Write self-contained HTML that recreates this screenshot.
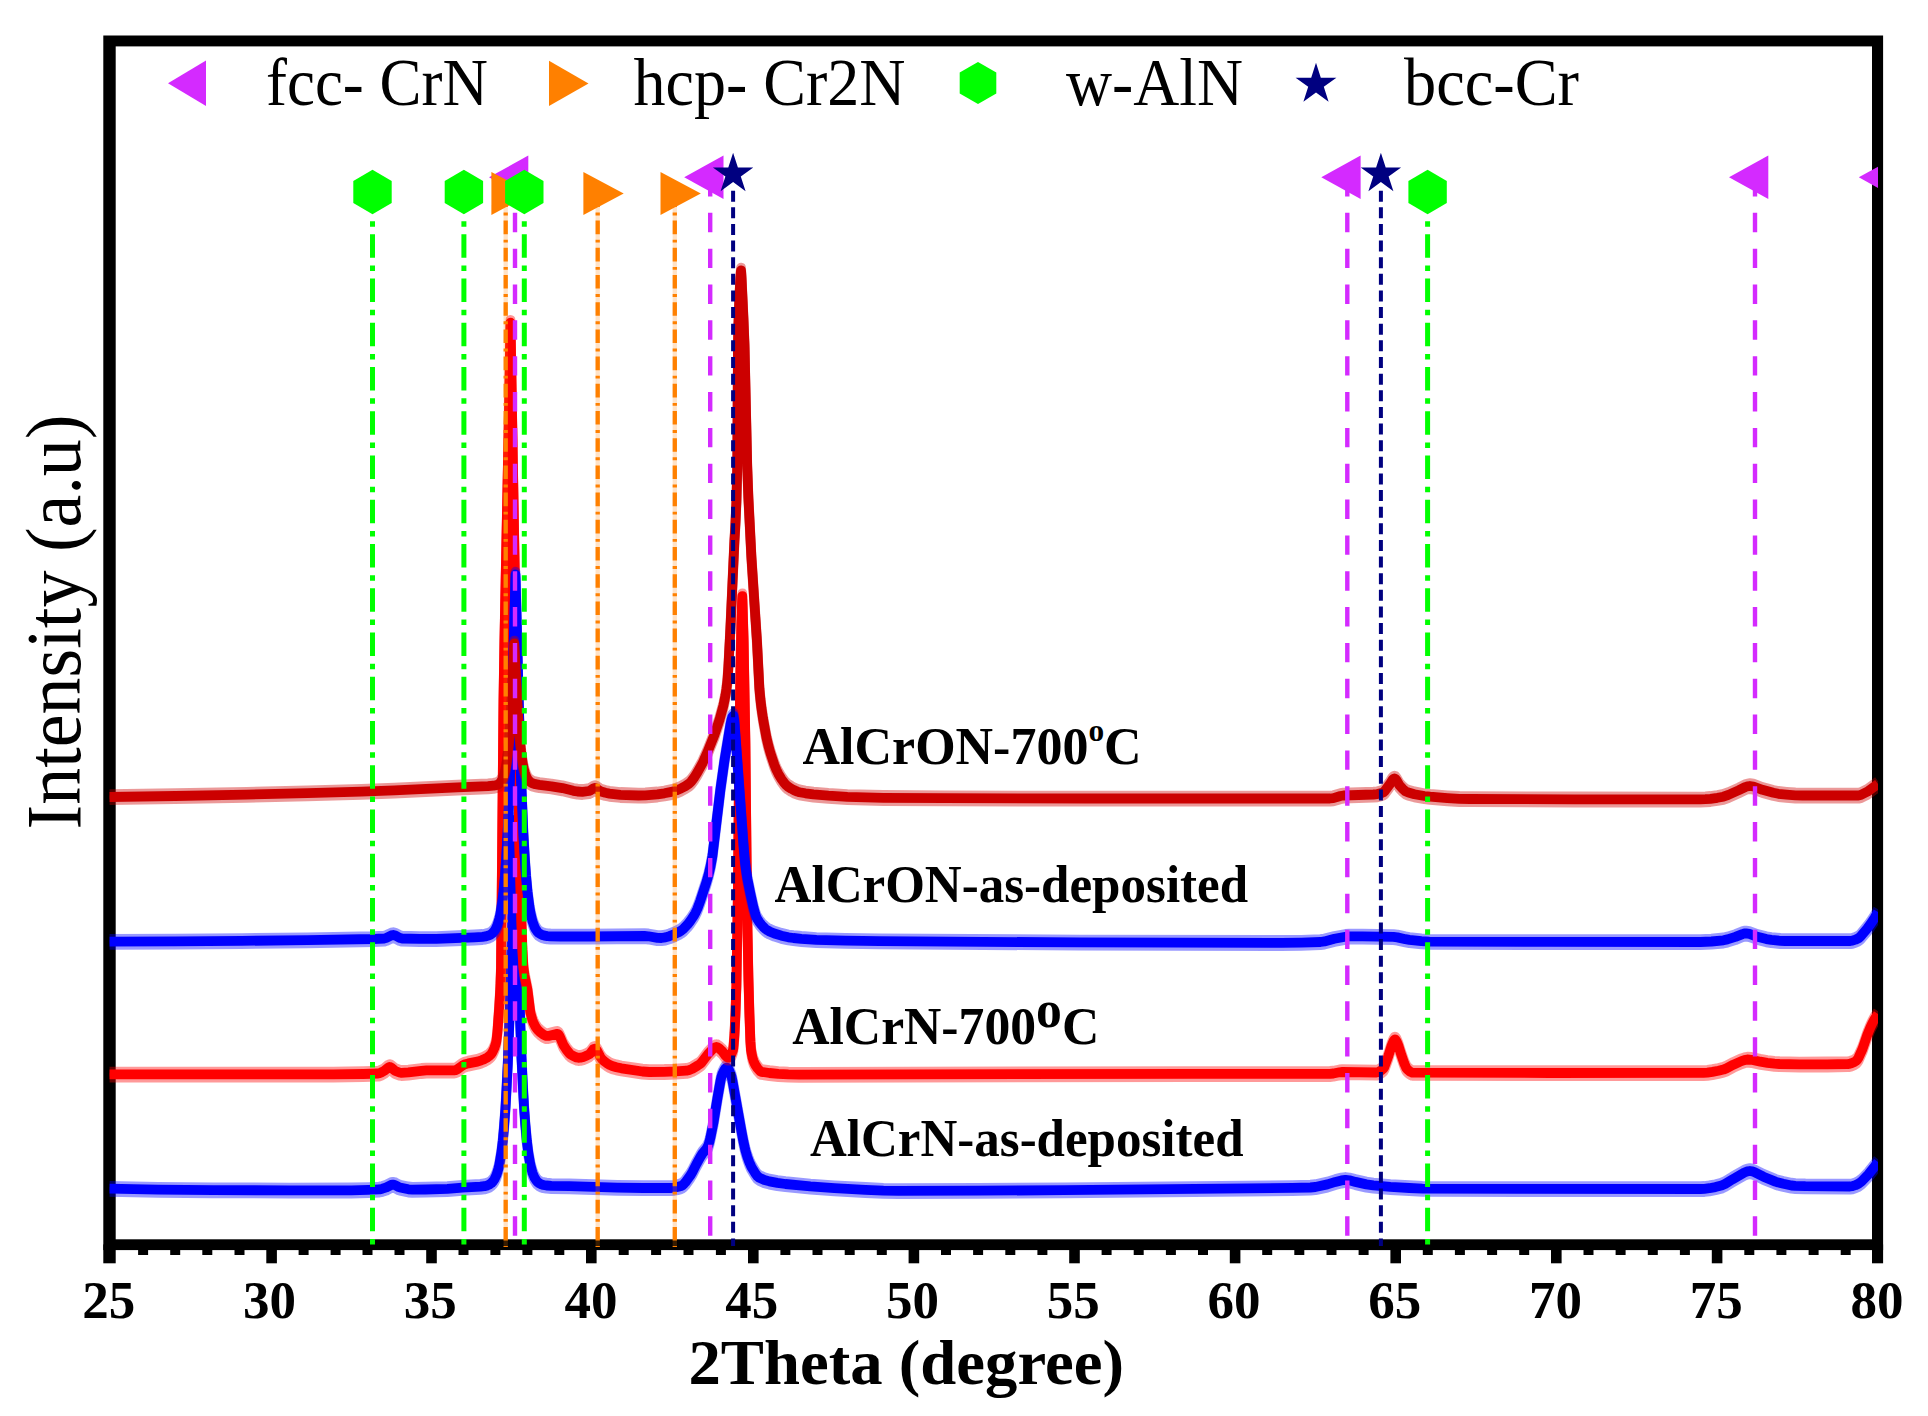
<!DOCTYPE html>
<html><head><meta charset="utf-8"><title>XRD patterns</title>
<style>
html,body{margin:0;padding:0;background:#fff}
svg{display:block}
text{font-family:"Liberation Serif",serif;fill:#000}
</style></head>
<body>
<svg width="1928" height="1416" viewBox="0 0 1928 1416">
<defs><clipPath id="plot"><rect x="109.4" y="41.0" width="1768.6" height="1209.0"/></clipPath></defs>
<rect width="1928" height="1416" fill="#fff"/>
<g fill="#000">
<rect x="103.3" y="35.5" width="1779.8" height="1214.6"/><rect x="115.7" y="46.4" width="1756.3" height="1192.9" fill="#fff"/><rect x="103.3" y="1244.4" width="12.4" height="18.9"/><rect x="1872" y="1244.4" width="11.1" height="18.9"/>
<rect x="138.1" y="1244.4" width="10" height="10.6"/>
<rect x="170.2" y="1244.4" width="10" height="10.6"/>
<rect x="202.3" y="1244.4" width="10" height="10.6"/>
<rect x="234.5" y="1244.4" width="10" height="10.6"/>
<rect x="266.3" y="1244.4" width="10.6" height="18.9"/>
<rect x="298.6" y="1244.4" width="10" height="10.6"/>
<rect x="330.6" y="1244.4" width="10" height="10.6"/>
<rect x="362.5" y="1244.4" width="10" height="10.6"/>
<rect x="394.5" y="1244.4" width="10" height="10.6"/>
<rect x="426.2" y="1244.4" width="10.6" height="18.9"/>
<rect x="458.5" y="1244.4" width="10" height="10.6"/>
<rect x="490.4" y="1244.4" width="10" height="10.6"/>
<rect x="522.4" y="1244.4" width="10" height="10.6"/>
<rect x="554.3" y="1244.4" width="10" height="10.6"/>
<rect x="586.0" y="1244.4" width="10.6" height="18.9"/>
<rect x="618.7" y="1244.4" width="10" height="10.6"/>
<rect x="651.1" y="1244.4" width="10" height="10.6"/>
<rect x="683.5" y="1244.4" width="10" height="10.6"/>
<rect x="715.9" y="1244.4" width="10" height="10.6"/>
<rect x="748.0" y="1244.4" width="10.6" height="18.9"/>
<rect x="780.4" y="1244.4" width="10" height="10.6"/>
<rect x="812.5" y="1244.4" width="10" height="10.6"/>
<rect x="844.7" y="1244.4" width="10" height="10.6"/>
<rect x="876.8" y="1244.4" width="10" height="10.6"/>
<rect x="908.6" y="1244.4" width="10.6" height="18.9"/>
<rect x="941.0" y="1244.4" width="10" height="10.6"/>
<rect x="973.1" y="1244.4" width="10" height="10.6"/>
<rect x="1005.3" y="1244.4" width="10" height="10.6"/>
<rect x="1037.4" y="1244.4" width="10" height="10.6"/>
<rect x="1069.2" y="1244.4" width="10.6" height="18.9"/>
<rect x="1101.6" y="1244.4" width="10" height="10.6"/>
<rect x="1133.7" y="1244.4" width="10" height="10.6"/>
<rect x="1165.9" y="1244.4" width="10" height="10.6"/>
<rect x="1198.0" y="1244.4" width="10" height="10.6"/>
<rect x="1229.8" y="1244.4" width="10.6" height="18.9"/>
<rect x="1262.2" y="1244.4" width="10" height="10.6"/>
<rect x="1294.3" y="1244.4" width="10" height="10.6"/>
<rect x="1326.5" y="1244.4" width="10" height="10.6"/>
<rect x="1358.6" y="1244.4" width="10" height="10.6"/>
<rect x="1390.4" y="1244.4" width="10.6" height="18.9"/>
<rect x="1422.8" y="1244.4" width="10" height="10.6"/>
<rect x="1454.9" y="1244.4" width="10" height="10.6"/>
<rect x="1487.1" y="1244.4" width="10" height="10.6"/>
<rect x="1519.2" y="1244.4" width="10" height="10.6"/>
<rect x="1551.0" y="1244.4" width="10.6" height="18.9"/>
<rect x="1583.5" y="1244.4" width="10" height="10.6"/>
<rect x="1615.6" y="1244.4" width="10" height="10.6"/>
<rect x="1647.8" y="1244.4" width="10" height="10.6"/>
<rect x="1679.9" y="1244.4" width="10" height="10.6"/>
<rect x="1711.8" y="1244.4" width="10.6" height="18.9"/>
<rect x="1744.3" y="1244.4" width="10" height="10.6"/>
<rect x="1776.4" y="1244.4" width="10" height="10.6"/>
<rect x="1808.6" y="1244.4" width="10" height="10.6"/>
<rect x="1840.7" y="1244.4" width="10" height="10.6"/>
</g>
<g clip-path="url(#plot)">
<g fill="none" stroke="#0000FF" stroke-width="9.8" stroke-linejoin="round"><polyline opacity="0.4" points="109.3,1185.9 158.4,1186.8 213.4,1187.3 289.4,1187.6 351.4,1187.5 368.4,1187.1 379.4,1186.6 382.4,1185.9 386.4,1184.6 390.4,1182.5 391.4,1182.1 393.0,1181.8 394.4,1182.0 395.4,1182.5 398.4,1184.1 400.0,1184.7 408.4,1186.5 412.4,1186.8 425.4,1186.7 447.4,1186.1 462.4,1184.8 480.4,1183.9 484.4,1183.4 487.4,1182.6 489.4,1181.7 491.4,1180.3 493.4,1178.1 494.4,1176.6 496.4,1172.4 498.4,1165.9 499.4,1161.6 501.4,1149.6 502.8,1138.0 504.0,1124.6 505.4,1106.2 506.5,1086.6 507.8,1060.6 509.8,1006.8 511.5,946.4 514.8,817.2 518.3,955.8 520.3,1021.7 521.5,1054.7 522.8,1081.7 524.0,1103.7 525.3,1121.4 526.8,1137.8 528.4,1150.8 530.4,1162.2 532.4,1169.8 534.4,1174.7 536.4,1177.8 537.4,1179.0 539.4,1180.6 541.4,1181.6 543.4,1182.2 546.4,1182.7 551.4,1183.1 569.4,1183.3 617.4,1184.8 643.4,1185.2 671.4,1185.2 674.4,1184.8 677.4,1184.2 681.0,1183.2 682.4,1182.5 683.4,1181.7 685.4,1179.5 690.4,1172.6 692.4,1169.2 696.4,1161.3 700.4,1154.1 702.4,1150.9 706.4,1146.0 707.4,1144.4 708.4,1142.2 709.4,1139.0 710.4,1134.9 713.4,1120.1 717.4,1095.6 720.4,1078.5 721.4,1074.0 722.4,1071.2 724.4,1067.1 725.4,1065.6 726.4,1064.9 726.8,1064.8 727.4,1065.0 728.4,1066.2 729.4,1068.2 731.4,1073.4 732.4,1077.7 741.4,1128.1 743.4,1138.6 745.4,1147.6 747.4,1154.3 749.4,1159.7 751.4,1164.1 755.4,1170.8 757.4,1173.4 759.4,1175.0 764.4,1177.2 769.4,1178.6 777.4,1180.1 785.4,1181.2 810.4,1183.6 834.4,1185.3 865.4,1187.0 883.4,1187.8 898.4,1188.1 977.4,1187.9 1064.4,1187.4 1292.4,1185.1 1310.4,1184.7 1315.4,1184.2 1327.4,1181.6 1335.4,1179.1 1341.4,1177.6 1345.5,1177.0 1349.4,1177.5 1355.4,1179.1 1366.4,1181.6 1373.4,1182.6 1390.4,1184.1 1409.4,1185.2 1422.4,1185.8 1519.4,1186.1 1700.4,1186.2 1704.4,1186.0 1709.4,1185.4 1715.4,1184.3 1721.4,1182.8 1725.4,1180.9 1732.4,1176.6 1744.4,1169.7 1747.4,1168.6 1749.9,1168.2 1752.4,1168.6 1754.4,1169.3 1763.4,1173.9 1775.4,1178.8 1778.4,1179.8 1783.4,1181.0 1791.4,1182.7 1795.4,1183.1 1805.4,1183.4 1850.0,1183.7 1852.4,1183.4 1855.4,1182.4 1858.4,1181.0 1861.4,1178.8 1868.4,1171.6 1873.4,1165.4 1878.0,1159.2"/><polyline opacity="0.4" points="109.3,1191.9 158.4,1192.8 213.4,1193.3 289.4,1193.6 351.4,1193.5 368.4,1193.1 379.4,1192.6 382.4,1191.9 386.4,1190.6 390.4,1188.5 391.4,1188.1 393.0,1187.8 394.4,1188.0 395.4,1188.5 398.4,1190.1 400.0,1190.7 408.4,1192.5 412.4,1192.8 425.4,1192.7 447.4,1192.1 462.4,1190.8 480.4,1189.9 484.4,1189.4 487.4,1188.6 489.4,1187.7 491.4,1186.3 493.4,1184.1 494.4,1182.6 496.4,1178.4 498.4,1171.9 499.4,1167.6 501.4,1155.6 502.8,1144.0 504.0,1130.6 505.4,1112.2 506.5,1092.6 507.8,1066.6 509.8,1012.8 511.5,952.4 514.8,823.2 518.3,961.8 520.3,1027.7 521.5,1060.7 522.8,1087.7 524.0,1109.7 525.3,1127.4 526.8,1143.8 528.4,1156.8 530.4,1168.2 532.4,1175.8 534.4,1180.7 536.4,1183.8 537.4,1185.0 539.4,1186.6 541.4,1187.6 543.4,1188.2 546.4,1188.7 551.4,1189.1 569.4,1189.3 617.4,1190.8 643.4,1191.2 671.4,1191.2 674.4,1190.8 677.4,1190.2 681.0,1189.2 682.4,1188.5 683.4,1187.7 685.4,1185.5 690.4,1178.6 692.4,1175.2 696.4,1167.3 700.4,1160.1 702.4,1156.9 706.4,1152.0 707.4,1150.4 708.4,1148.2 709.4,1145.0 710.4,1140.9 713.4,1126.1 717.4,1101.6 720.4,1084.5 721.4,1080.0 722.4,1077.2 724.4,1073.1 725.4,1071.6 726.4,1070.9 726.8,1070.8 727.4,1071.0 728.4,1072.2 729.4,1074.2 731.4,1079.4 732.4,1083.7 741.4,1134.1 743.4,1144.6 745.4,1153.6 747.4,1160.3 749.4,1165.7 751.4,1170.1 755.4,1176.8 757.4,1179.4 759.4,1181.0 764.4,1183.2 769.4,1184.6 777.4,1186.1 785.4,1187.2 810.4,1189.6 834.4,1191.3 865.4,1193.0 883.4,1193.8 898.4,1194.1 977.4,1193.9 1064.4,1193.4 1292.4,1191.1 1310.4,1190.7 1315.4,1190.2 1327.4,1187.6 1335.4,1185.1 1341.4,1183.6 1345.5,1183.0 1349.4,1183.5 1355.4,1185.1 1366.4,1187.6 1373.4,1188.6 1390.4,1190.1 1409.4,1191.2 1422.4,1191.8 1519.4,1192.1 1700.4,1192.2 1704.4,1192.0 1709.4,1191.4 1715.4,1190.3 1721.4,1188.8 1725.4,1186.9 1732.4,1182.6 1744.4,1175.7 1747.4,1174.6 1749.9,1174.2 1752.4,1174.6 1754.4,1175.3 1763.4,1179.9 1775.4,1184.8 1778.4,1185.8 1783.4,1187.0 1791.4,1188.7 1795.4,1189.1 1805.4,1189.4 1850.0,1189.7 1852.4,1189.4 1855.4,1188.4 1858.4,1187.0 1861.4,1184.8 1868.4,1177.6 1873.4,1171.4 1878.0,1165.2"/><polyline points="109.3,1188.7 158.4,1189.6 213.4,1190.1 289.4,1190.4 351.4,1190.3 368.4,1189.9 379.4,1189.4 382.4,1188.7 386.4,1187.4 390.4,1185.3 391.4,1184.9 393.0,1184.6 394.4,1184.8 395.4,1185.3 398.4,1186.9 400.0,1187.5 408.4,1189.3 412.4,1189.6 425.4,1189.5 447.4,1188.9 462.4,1187.6 480.4,1186.7 484.4,1186.2 487.4,1185.4 489.4,1184.5 491.4,1183.1 493.4,1180.9 494.4,1179.4 496.4,1175.2 498.4,1168.7 499.4,1164.4 501.4,1152.4 502.8,1140.8 504.0,1127.4 505.4,1109.0 506.5,1089.4 507.8,1063.4 509.8,1009.6 511.5,949.2 514.8,820.0 518.3,958.6 520.3,1024.5 521.5,1057.5 522.8,1084.5 524.0,1106.5 525.3,1124.2 526.8,1140.6 528.4,1153.6 530.4,1165.0 532.4,1172.6 534.4,1177.5 536.4,1180.6 537.4,1181.8 539.4,1183.4 541.4,1184.4 543.4,1185.0 546.4,1185.5 551.4,1185.9 569.4,1186.1 617.4,1187.6 643.4,1188.0 671.4,1188.0 674.4,1187.6 677.4,1187.0 681.0,1186.0 682.4,1185.3 683.4,1184.5 685.4,1182.3 690.4,1175.4 692.4,1172.0 696.4,1164.1 700.4,1156.9 702.4,1153.7 706.4,1148.8 707.4,1147.2 708.4,1145.0 709.4,1141.8 710.4,1137.7 713.4,1122.9 717.4,1098.4 720.4,1081.3 721.4,1076.8 722.4,1074.0 724.4,1069.9 725.4,1068.4 726.4,1067.7 726.8,1067.6 727.4,1067.8 728.4,1069.0 729.4,1071.0 731.4,1076.2 732.4,1080.5 741.4,1130.9 743.4,1141.4 745.4,1150.4 747.4,1157.1 749.4,1162.5 751.4,1166.9 755.4,1173.6 757.4,1176.2 759.4,1177.8 764.4,1180.0 769.4,1181.4 777.4,1182.9 785.4,1184.0 810.4,1186.4 834.4,1188.1 865.4,1189.8 883.4,1190.6 898.4,1190.9 977.4,1190.7 1064.4,1190.2 1292.4,1187.9 1310.4,1187.5 1315.4,1187.0 1327.4,1184.4 1335.4,1181.9 1341.4,1180.4 1345.5,1179.8 1349.4,1180.3 1355.4,1181.9 1366.4,1184.4 1373.4,1185.4 1390.4,1186.9 1409.4,1188.0 1422.4,1188.6 1519.4,1188.9 1700.4,1189.0 1704.4,1188.8 1709.4,1188.2 1715.4,1187.1 1721.4,1185.6 1725.4,1183.7 1732.4,1179.4 1744.4,1172.5 1747.4,1171.4 1749.9,1171.0 1752.4,1171.4 1754.4,1172.1 1763.4,1176.7 1775.4,1181.6 1778.4,1182.6 1783.4,1183.8 1791.4,1185.5 1795.4,1185.9 1805.4,1186.2 1850.0,1186.5 1852.4,1186.2 1855.4,1185.2 1858.4,1183.8 1861.4,1181.6 1868.4,1174.4 1873.4,1168.2 1878.0,1162.0"/></g>
<g fill="none" stroke="#FF0000" stroke-width="9.8" stroke-linejoin="round"><polyline opacity="0.4" points="109.3,1071.6 333.4,1071.6 363.4,1071.2 378.0,1070.7 379.4,1070.4 381.4,1069.6 384.4,1068.0 388.4,1064.6 389.7,1064.2 390.4,1064.3 391.4,1064.9 394.4,1067.5 395.4,1068.2 399.4,1069.7 401.4,1070.0 408.4,1069.6 421.4,1068.0 426.4,1067.6 454.5,1067.5 455.4,1067.4 457.4,1066.5 462.4,1062.8 464.4,1061.7 468.4,1060.6 477.4,1058.8 481.4,1057.5 484.4,1056.3 487.4,1054.6 489.4,1053.1 491.4,1051.0 492.4,1049.5 494.4,1045.2 496.0,1040.2 496.4,1038.2 497.4,1029.5 499.3,1003.2 500.4,984.0 501.0,965.2 503.5,697.2 504.4,639.7 509.2,397.2 510.5,319.8 519.4,843.0 521.4,918.7 522.4,946.9 523.4,964.2 524.4,972.1 527.5,987.2 530.4,1010.0 532.4,1017.1 533.4,1019.8 535.4,1023.9 537.4,1026.7 540.4,1029.6 543.4,1031.9 545.4,1032.9 546.4,1033.1 548.4,1033.1 556.4,1031.1 557.4,1031.0 558.4,1031.6 559.4,1033.0 560.4,1035.2 563.4,1042.2 566.4,1046.8 569.4,1050.6 570.7,1051.7 573.4,1053.3 576.4,1054.6 578.4,1055.0 580.4,1054.9 583.4,1054.2 586.4,1053.0 589.4,1051.4 590.4,1050.4 593.4,1046.5 594.7,1045.9 595.4,1046.1 596.4,1047.0 597.4,1048.5 600.4,1054.2 602.2,1056.7 604.4,1058.6 607.4,1060.8 609.4,1062.0 612.2,1063.2 616.4,1064.4 621.4,1065.5 642.4,1068.7 649.4,1069.2 664.4,1069.0 675.4,1068.6 686.4,1067.9 689.4,1067.2 692.4,1066.0 697.4,1063.0 700.0,1061.2 701.4,1060.0 708.4,1050.8 713.4,1045.6 715.4,1044.4 716.4,1044.2 717.4,1044.4 719.4,1045.8 722.4,1048.6 725.4,1052.7 726.4,1053.9 727.4,1054.7 728.4,1054.7 729.4,1054.2 730.4,1053.0 731.4,1051.3 732.4,1048.9 733.0,1047.2 733.4,1045.1 734.4,1032.9 735.4,1012.4 736.4,983.1 737.8,897.2 739.3,747.2 740.4,668.8 741.4,618.9 742.3,593.4 743.6,637.2 745.4,739.9 747.0,897.2 747.4,922.8 748.4,974.3 749.4,1010.5 750.4,1038.7 751.0,1047.2 752.4,1054.5 753.4,1057.9 754.4,1060.4 755.4,1062.2 757.4,1065.3 759.4,1067.6 760.4,1068.5 761.4,1069.0 769.4,1070.2 778.4,1071.1 788.4,1071.6 799.4,1071.8 1191.4,1071.1 1330.0,1071.0 1333.4,1070.7 1339.4,1069.5 1342.4,1069.2 1376.4,1069.7 1378.4,1069.2 1381.4,1067.5 1383.4,1065.8 1384.4,1064.1 1388.4,1053.0 1391.4,1043.4 1393.4,1038.6 1394.4,1037.0 1395.0,1036.7 1395.4,1036.8 1396.4,1038.2 1398.5,1043.2 1401.4,1052.4 1404.4,1061.0 1406.4,1065.4 1407.4,1066.6 1409.4,1068.4 1411.4,1069.6 1412.4,1069.8 1549.4,1070.2 1703.4,1070.1 1707.4,1069.8 1712.4,1069.1 1718.4,1068.0 1723.4,1066.8 1726.4,1065.6 1733.4,1061.9 1741.4,1058.3 1744.4,1057.3 1747.4,1056.7 1751.4,1057.0 1760.4,1058.9 1767.4,1060.0 1774.4,1060.8 1779.4,1061.2 1799.4,1061.6 1827.4,1061.5 1848.0,1061.2 1849.4,1061.1 1851.4,1060.5 1854.4,1059.2 1856.4,1057.9 1857.4,1056.7 1858.4,1055.1 1862.4,1046.3 1867.4,1031.8 1870.4,1024.5 1872.4,1020.3 1874.4,1016.7 1878.0,1011.2"/><polyline opacity="0.4" points="109.3,1077.6 333.4,1077.6 363.4,1077.2 378.0,1076.7 379.4,1076.4 381.4,1075.6 384.4,1074.0 388.4,1070.6 389.7,1070.2 390.4,1070.3 391.4,1070.9 394.4,1073.5 395.4,1074.2 399.4,1075.7 401.4,1076.0 408.4,1075.6 421.4,1074.0 426.4,1073.6 454.5,1073.5 455.4,1073.4 457.4,1072.5 462.4,1068.8 464.4,1067.7 468.4,1066.6 477.4,1064.8 481.4,1063.5 484.4,1062.3 487.4,1060.6 489.4,1059.1 491.4,1057.0 492.4,1055.5 494.4,1051.2 496.0,1046.2 496.4,1044.2 497.4,1035.5 499.3,1009.2 500.4,990.0 501.0,971.2 503.5,703.2 504.4,645.7 509.2,403.2 510.5,325.8 519.4,849.0 521.4,924.7 522.4,952.9 523.4,970.2 524.4,978.1 527.5,993.2 530.4,1016.0 532.4,1023.1 533.4,1025.8 535.4,1029.9 537.4,1032.7 540.4,1035.6 543.4,1037.9 545.4,1038.9 546.4,1039.1 548.4,1039.1 556.4,1037.1 557.4,1037.0 558.4,1037.6 559.4,1039.0 560.4,1041.2 563.4,1048.2 566.4,1052.8 569.4,1056.6 570.7,1057.7 573.4,1059.3 576.4,1060.6 578.4,1061.0 580.4,1060.9 583.4,1060.2 586.4,1059.0 589.4,1057.4 590.4,1056.4 593.4,1052.5 594.7,1051.9 595.4,1052.1 596.4,1053.0 597.4,1054.5 600.4,1060.2 602.2,1062.7 604.4,1064.6 607.4,1066.8 609.4,1068.0 612.2,1069.2 616.4,1070.4 621.4,1071.5 642.4,1074.7 649.4,1075.2 664.4,1075.0 675.4,1074.6 686.4,1073.9 689.4,1073.2 692.4,1072.0 697.4,1069.0 700.0,1067.2 701.4,1066.0 708.4,1056.8 713.4,1051.6 715.4,1050.4 716.4,1050.2 717.4,1050.4 719.4,1051.8 722.4,1054.6 725.4,1058.7 726.4,1059.9 727.4,1060.7 728.4,1060.7 729.4,1060.2 730.4,1059.0 731.4,1057.3 732.4,1054.9 733.0,1053.2 733.4,1051.1 734.4,1038.9 735.4,1018.4 736.4,989.1 737.8,903.2 739.3,753.2 740.4,674.8 741.4,624.9 742.3,599.4 743.6,643.2 745.4,745.9 747.0,903.2 747.4,928.8 748.4,980.3 749.4,1016.5 750.4,1044.7 751.0,1053.2 752.4,1060.5 753.4,1063.9 754.4,1066.4 755.4,1068.2 757.4,1071.3 759.4,1073.6 760.4,1074.5 761.4,1075.0 769.4,1076.2 778.4,1077.1 788.4,1077.6 799.4,1077.8 1191.4,1077.1 1330.0,1077.0 1333.4,1076.7 1339.4,1075.5 1342.4,1075.2 1376.4,1075.7 1378.4,1075.2 1381.4,1073.5 1383.4,1071.8 1384.4,1070.1 1388.4,1059.0 1391.4,1049.4 1393.4,1044.6 1394.4,1043.0 1395.0,1042.7 1395.4,1042.8 1396.4,1044.2 1398.5,1049.2 1401.4,1058.4 1404.4,1067.0 1406.4,1071.4 1407.4,1072.6 1409.4,1074.4 1411.4,1075.6 1412.4,1075.8 1549.4,1076.2 1703.4,1076.1 1707.4,1075.8 1712.4,1075.1 1718.4,1074.0 1723.4,1072.8 1726.4,1071.6 1733.4,1067.9 1741.4,1064.3 1744.4,1063.3 1747.4,1062.7 1751.4,1063.0 1760.4,1064.9 1767.4,1066.0 1774.4,1066.8 1779.4,1067.2 1799.4,1067.6 1827.4,1067.5 1848.0,1067.2 1849.4,1067.1 1851.4,1066.5 1854.4,1065.2 1856.4,1063.9 1857.4,1062.7 1858.4,1061.1 1862.4,1052.3 1867.4,1037.8 1870.4,1030.5 1872.4,1026.3 1874.4,1022.7 1878.0,1017.2"/><polyline points="109.3,1074.4 333.4,1074.4 363.4,1074.0 378.0,1073.5 379.4,1073.2 381.4,1072.4 384.4,1070.8 388.4,1067.4 389.7,1067.0 390.4,1067.1 391.4,1067.7 394.4,1070.3 395.4,1071.0 399.4,1072.5 401.4,1072.8 408.4,1072.4 421.4,1070.8 426.4,1070.4 454.5,1070.3 455.4,1070.2 457.4,1069.3 462.4,1065.6 464.4,1064.5 468.4,1063.4 477.4,1061.6 481.4,1060.3 484.4,1059.1 487.4,1057.4 489.4,1055.9 491.4,1053.8 492.4,1052.3 494.4,1048.0 496.0,1043.0 496.4,1041.0 497.4,1032.3 499.3,1006.0 500.4,986.8 501.0,968.0 503.5,700.0 504.4,642.5 509.2,400.0 510.5,322.6 519.4,845.8 521.4,921.5 522.4,949.7 523.4,967.0 524.4,974.9 527.5,990.0 530.4,1012.8 532.4,1019.9 533.4,1022.6 535.4,1026.7 537.4,1029.5 540.4,1032.4 543.4,1034.7 545.4,1035.7 546.4,1035.9 548.4,1035.9 556.4,1033.9 557.4,1033.8 558.4,1034.4 559.4,1035.8 560.4,1038.0 563.4,1045.0 566.4,1049.6 569.4,1053.4 570.7,1054.5 573.4,1056.1 576.4,1057.4 578.4,1057.8 580.4,1057.7 583.4,1057.0 586.4,1055.8 589.4,1054.2 590.4,1053.2 593.4,1049.3 594.7,1048.7 595.4,1048.9 596.4,1049.8 597.4,1051.3 600.4,1057.0 602.2,1059.5 604.4,1061.4 607.4,1063.6 609.4,1064.8 612.2,1066.0 616.4,1067.2 621.4,1068.3 642.4,1071.5 649.4,1072.0 664.4,1071.8 675.4,1071.4 686.4,1070.7 689.4,1070.0 692.4,1068.8 697.4,1065.8 700.0,1064.0 701.4,1062.8 708.4,1053.6 713.4,1048.4 715.4,1047.2 716.4,1047.0 717.4,1047.2 719.4,1048.6 722.4,1051.4 725.4,1055.5 726.4,1056.7 727.4,1057.5 728.4,1057.5 729.4,1057.0 730.4,1055.8 731.4,1054.1 732.4,1051.7 733.0,1050.0 733.4,1047.9 734.4,1035.7 735.4,1015.2 736.4,985.9 737.8,900.0 739.3,750.0 740.4,671.6 741.4,621.7 742.3,596.2 743.6,640.0 745.4,742.7 747.0,900.0 747.4,925.6 748.4,977.1 749.4,1013.3 750.4,1041.5 751.0,1050.0 752.4,1057.3 753.4,1060.7 754.4,1063.2 755.4,1065.0 757.4,1068.1 759.4,1070.4 760.4,1071.3 761.4,1071.8 769.4,1073.0 778.4,1073.9 788.4,1074.4 799.4,1074.6 1191.4,1073.9 1330.0,1073.8 1333.4,1073.5 1339.4,1072.3 1342.4,1072.0 1376.4,1072.5 1378.4,1072.0 1381.4,1070.3 1383.4,1068.6 1384.4,1066.9 1388.4,1055.8 1391.4,1046.2 1393.4,1041.4 1394.4,1039.8 1395.0,1039.5 1395.4,1039.6 1396.4,1041.0 1398.5,1046.0 1401.4,1055.2 1404.4,1063.8 1406.4,1068.2 1407.4,1069.4 1409.4,1071.2 1411.4,1072.4 1412.4,1072.6 1549.4,1073.0 1703.4,1072.9 1707.4,1072.6 1712.4,1071.9 1718.4,1070.8 1723.4,1069.6 1726.4,1068.4 1733.4,1064.7 1741.4,1061.1 1744.4,1060.1 1747.4,1059.5 1751.4,1059.8 1760.4,1061.7 1767.4,1062.8 1774.4,1063.6 1779.4,1064.0 1799.4,1064.4 1827.4,1064.3 1848.0,1064.0 1849.4,1063.9 1851.4,1063.3 1854.4,1062.0 1856.4,1060.7 1857.4,1059.5 1858.4,1057.9 1862.4,1049.1 1867.4,1034.6 1870.4,1027.3 1872.4,1023.1 1874.4,1019.5 1878.0,1014.0"/></g>
<g fill="none" stroke="#0000FF" stroke-width="9.8" stroke-linejoin="round"><polyline opacity="0.4" points="109.3,938.8 175.4,938.6 241.4,938.1 307.4,937.3 373.4,936.2 384.4,935.7 386.4,935.0 391.4,932.6 393.3,932.2 395.4,932.7 399.4,934.9 400.4,935.3 402.0,935.7 419.4,936.1 436.4,936.1 474.4,934.5 482.4,934.0 485.4,933.6 488.4,932.8 490.4,931.9 492.4,930.5 494.4,928.2 495.4,926.7 497.4,922.3 499.4,915.6 500.4,911.0 502.4,898.5 503.5,889.2 505.0,872.9 506.2,855.5 508.4,814.9 510.5,759.5 512.2,699.6 515.5,571.7 519.0,708.9 521.0,774.2 523.4,831.7 524.8,855.4 526.0,872.8 527.5,889.0 529.4,903.9 530.4,909.7 532.4,918.3 534.4,923.9 535.4,925.9 537.4,928.8 538.4,929.9 540.4,931.3 542.4,932.2 544.4,932.8 547.4,933.3 550.4,933.5 560.4,933.7 589.4,933.7 644.5,933.2 648.4,933.5 657.4,935.1 661.4,935.2 665.4,934.6 669.4,933.4 673.4,931.9 679.0,929.2 681.4,927.7 683.4,926.1 687.4,921.9 690.4,918.1 694.3,912.2 695.4,910.2 697.4,905.9 700.4,897.8 706.4,879.4 708.4,872.5 710.4,864.2 712.4,853.3 720.4,786.8 724.4,758.2 730.4,721.9 731.4,717.2 732.4,714.0 733.4,712.8 734.4,718.7 743.4,840.7 744.9,858.8 746.4,870.0 747.4,876.1 750.4,891.0 753.4,904.5 755.4,911.7 756.4,914.4 757.3,916.2 759.4,919.4 761.4,922.0 763.4,924.2 765.4,926.0 767.4,927.5 769.4,928.6 774.4,930.7 781.4,932.9 788.4,934.5 793.4,935.2 801.4,936.0 816.4,937.1 845.4,937.9 879.4,938.4 1079.4,939.6 1281.4,940.0 1301.4,939.8 1320.4,939.2 1324.4,938.6 1334.4,936.0 1345.4,934.0 1349.4,933.6 1362.4,933.6 1393.4,934.1 1397.4,934.6 1405.4,936.4 1409.4,937.1 1421.4,938.4 1429.4,938.8 1547.4,939.1 1700.4,939.2 1711.4,938.7 1723.4,937.5 1727.4,936.6 1735.4,934.1 1742.4,931.3 1744.4,930.7 1746.0,930.6 1749.4,931.1 1757.4,934.0 1766.4,936.3 1771.4,937.1 1780.4,938.0 1785.0,938.2 1850.4,938.2 1852.4,937.9 1855.4,936.9 1858.4,935.5 1860.4,933.9 1867.4,925.5 1870.4,921.5 1874.4,915.5 1878.0,909.2"/><polyline opacity="0.4" points="109.3,944.8 175.4,944.6 241.4,944.1 307.4,943.3 373.4,942.2 384.4,941.7 386.4,941.0 391.4,938.6 393.3,938.2 395.4,938.7 399.4,940.9 400.4,941.3 402.0,941.7 419.4,942.1 436.4,942.1 474.4,940.5 482.4,940.0 485.4,939.6 488.4,938.8 490.4,937.9 492.4,936.5 494.4,934.2 495.4,932.7 497.4,928.3 499.4,921.6 500.4,917.0 502.4,904.5 503.5,895.2 505.0,878.9 506.2,861.5 508.4,820.9 510.5,765.5 512.2,705.6 515.5,577.7 519.0,714.9 521.0,780.2 523.4,837.7 524.8,861.4 526.0,878.8 527.5,895.0 529.4,909.9 530.4,915.7 532.4,924.3 534.4,929.9 535.4,931.9 537.4,934.8 538.4,935.9 540.4,937.3 542.4,938.2 544.4,938.8 547.4,939.3 550.4,939.5 560.4,939.7 589.4,939.7 644.5,939.2 648.4,939.5 657.4,941.1 661.4,941.2 665.4,940.6 669.4,939.4 673.4,937.9 679.0,935.2 681.4,933.7 683.4,932.1 687.4,927.9 690.4,924.1 694.3,918.2 695.4,916.2 697.4,911.9 700.4,903.8 706.4,885.4 708.4,878.5 710.4,870.2 712.4,859.3 720.4,792.8 724.4,764.2 730.4,727.9 731.4,723.2 732.4,720.0 733.4,718.8 734.4,724.7 743.4,846.7 744.9,864.8 746.4,876.0 747.4,882.1 750.4,897.0 753.4,910.5 755.4,917.7 756.4,920.4 757.3,922.2 759.4,925.4 761.4,928.0 763.4,930.2 765.4,932.0 767.4,933.5 769.4,934.6 774.4,936.7 781.4,938.9 788.4,940.5 793.4,941.2 801.4,942.0 816.4,943.1 845.4,943.9 879.4,944.4 1079.4,945.6 1281.4,946.0 1301.4,945.8 1320.4,945.2 1324.4,944.6 1334.4,942.0 1345.4,940.0 1349.4,939.6 1362.4,939.6 1393.4,940.1 1397.4,940.6 1405.4,942.4 1409.4,943.1 1421.4,944.4 1429.4,944.8 1547.4,945.1 1700.4,945.2 1711.4,944.7 1723.4,943.5 1727.4,942.6 1735.4,940.1 1742.4,937.3 1744.4,936.7 1746.0,936.6 1749.4,937.1 1757.4,940.0 1766.4,942.3 1771.4,943.1 1780.4,944.0 1785.0,944.2 1850.4,944.2 1852.4,943.9 1855.4,942.9 1858.4,941.5 1860.4,939.9 1867.4,931.5 1870.4,927.5 1874.4,921.5 1878.0,915.2"/><polyline points="109.3,941.6 175.4,941.4 241.4,940.9 307.4,940.1 373.4,939.0 384.4,938.5 386.4,937.8 391.4,935.4 393.3,935.0 395.4,935.5 399.4,937.7 400.4,938.1 402.0,938.5 419.4,938.9 436.4,938.9 474.4,937.3 482.4,936.8 485.4,936.4 488.4,935.6 490.4,934.7 492.4,933.3 494.4,931.0 495.4,929.5 497.4,925.1 499.4,918.4 500.4,913.8 502.4,901.3 503.5,892.0 505.0,875.7 506.2,858.3 508.4,817.7 510.5,762.3 512.2,702.4 515.5,574.5 519.0,711.7 521.0,777.0 523.4,834.5 524.8,858.2 526.0,875.6 527.5,891.8 529.4,906.7 530.4,912.5 532.4,921.1 534.4,926.7 535.4,928.7 537.4,931.6 538.4,932.7 540.4,934.1 542.4,935.0 544.4,935.6 547.4,936.1 550.4,936.3 560.4,936.5 589.4,936.5 644.5,936.0 648.4,936.3 657.4,937.9 661.4,938.0 665.4,937.4 669.4,936.2 673.4,934.7 679.0,932.0 681.4,930.5 683.4,928.9 687.4,924.7 690.4,920.9 694.3,915.0 695.4,913.0 697.4,908.7 700.4,900.6 706.4,882.2 708.4,875.3 710.4,867.0 712.4,856.1 720.4,789.6 724.4,761.0 730.4,724.7 731.4,720.0 732.4,716.8 733.4,715.6 734.4,721.5 743.4,843.5 744.9,861.6 746.4,872.8 747.4,878.9 750.4,893.8 753.4,907.3 755.4,914.5 756.4,917.2 757.3,919.0 759.4,922.2 761.4,924.8 763.4,927.0 765.4,928.8 767.4,930.3 769.4,931.4 774.4,933.5 781.4,935.7 788.4,937.3 793.4,938.0 801.4,938.8 816.4,939.9 845.4,940.7 879.4,941.2 1079.4,942.4 1281.4,942.8 1301.4,942.6 1320.4,942.0 1324.4,941.4 1334.4,938.8 1345.4,936.8 1349.4,936.4 1362.4,936.4 1393.4,936.9 1397.4,937.4 1405.4,939.2 1409.4,939.9 1421.4,941.2 1429.4,941.6 1547.4,941.9 1700.4,942.0 1711.4,941.5 1723.4,940.3 1727.4,939.4 1735.4,936.9 1742.4,934.1 1744.4,933.5 1746.0,933.4 1749.4,933.9 1757.4,936.8 1766.4,939.1 1771.4,939.9 1780.4,940.8 1785.0,941.0 1850.4,941.0 1852.4,940.7 1855.4,939.7 1858.4,938.3 1860.4,936.7 1867.4,928.3 1870.4,924.3 1874.4,918.3 1878.0,912.0"/></g>
<g fill="none" stroke="#CC0000" stroke-width="9.8" stroke-linejoin="round"><polyline opacity="0.4" points="109.3,794.2 175.4,793.2 246.4,791.8 307.4,790.3 361.4,788.8 394.4,787.6 457.4,784.6 488.0,783.4 493.4,782.9 496.4,782.3 498.4,781.4 500.4,779.7 502.2,777.0 503.2,774.8 504.4,771.1 505.5,766.6 506.5,761.0 507.4,754.2 509.0,738.9 510.5,717.9 511.7,695.0 514.2,640.7 518.0,712.5 519.4,732.5 521.0,748.3 522.7,760.6 523.7,765.6 524.7,769.5 526.0,773.1 527.4,776.0 528.4,777.4 530.0,779.0 532.4,780.5 535.4,781.4 539.4,782.1 551.4,783.5 562.4,785.3 573.4,788.0 577.4,788.7 582.4,789.0 589.0,788.2 590.4,787.6 593.4,785.7 595.0,785.2 596.4,785.6 599.4,787.8 601.0,788.7 605.4,790.0 609.4,790.8 620.4,792.0 638.4,792.7 645.4,792.5 657.4,791.5 664.4,790.5 671.4,789.1 676.4,787.6 680.4,786.0 685.4,783.3 689.4,780.6 691.4,778.5 694.4,774.5 697.4,769.6 702.4,760.6 707.4,749.5 714.4,732.1 719.4,717.4 723.4,702.8 725.4,693.0 726.4,686.6 727.4,678.2 728.4,664.1 730.4,625.8 734.4,538.7 735.4,521.7 736.4,499.4 737.3,463.2 738.0,342.2 738.4,322.7 739.4,295.2 740.4,274.3 741.0,267.7 741.4,272.6 743.4,315.0 744.5,342.2 747.2,463.2 748.4,495.3 751.4,554.3 757.0,639.2 759.4,686.0 760.4,696.6 761.4,705.0 763.0,715.8 766.4,734.6 768.4,743.1 770.4,750.2 774.4,762.2 776.4,767.1 778.4,771.1 781.4,776.2 784.4,780.4 786.4,782.5 787.8,783.7 791.4,786.0 794.4,787.6 797.4,788.8 799.4,789.4 805.4,790.5 813.4,791.6 828.4,792.9 847.4,794.1 883.4,795.0 944.4,795.4 1085.4,795.7 1330.0,795.7 1333.4,795.3 1340.4,793.2 1343.4,792.7 1373.4,791.7 1377.4,791.3 1381.4,790.3 1383.4,789.5 1384.4,788.7 1389.4,782.0 1392.4,777.2 1393.4,776.2 1394.5,775.7 1395.4,776.1 1396.4,777.3 1399.4,782.4 1402.4,785.8 1405.4,788.4 1408.4,789.7 1414.4,791.4 1424.4,793.2 1430.0,793.9 1447.4,795.3 1459.4,796.0 1470.0,796.2 1574.4,796.5 1700.4,796.6 1705.4,796.4 1710.4,796.0 1717.4,795.0 1723.4,793.9 1728.4,792.1 1738.4,787.6 1745.4,784.2 1747.4,783.5 1749.9,783.2 1753.4,783.7 1762.4,787.0 1773.4,790.0 1778.4,791.0 1786.4,791.8 1795.4,792.5 1802.4,792.7 1858.4,792.7 1861.4,791.9 1867.4,788.9 1878.0,781.2"/><polyline opacity="0.4" points="109.3,800.2 175.4,799.2 246.4,797.8 307.4,796.3 361.4,794.8 394.4,793.6 457.4,790.6 488.0,789.4 493.4,788.9 496.4,788.3 498.4,787.4 500.4,785.7 502.2,783.0 503.2,780.8 504.4,777.1 505.5,772.6 506.5,767.0 507.4,760.2 509.0,744.9 510.5,723.9 511.7,701.0 514.2,646.7 518.0,718.5 519.4,738.5 521.0,754.3 522.7,766.6 523.7,771.6 524.7,775.5 526.0,779.1 527.4,782.0 528.4,783.4 530.0,785.0 532.4,786.5 535.4,787.4 539.4,788.1 551.4,789.5 562.4,791.3 573.4,794.0 577.4,794.7 582.4,795.0 589.0,794.2 590.4,793.6 593.4,791.7 595.0,791.2 596.4,791.6 599.4,793.8 601.0,794.7 605.4,796.0 609.4,796.8 620.4,798.0 638.4,798.7 645.4,798.5 657.4,797.5 664.4,796.5 671.4,795.1 676.4,793.6 680.4,792.0 685.4,789.3 689.4,786.6 691.4,784.5 694.4,780.5 697.4,775.6 702.4,766.6 707.4,755.5 714.4,738.1 719.4,723.4 723.4,708.8 725.4,699.0 726.4,692.6 727.4,684.2 728.4,670.1 730.4,631.8 734.4,544.7 735.4,527.7 736.4,505.4 737.3,469.2 738.0,348.2 738.4,328.7 739.4,301.2 740.4,280.3 741.0,273.7 741.4,278.6 743.4,321.0 744.5,348.2 747.2,469.2 748.4,501.3 751.4,560.3 757.0,645.2 759.4,692.0 760.4,702.6 761.4,711.0 763.0,721.8 766.4,740.6 768.4,749.1 770.4,756.2 774.4,768.2 776.4,773.1 778.4,777.1 781.4,782.2 784.4,786.4 786.4,788.5 787.8,789.7 791.4,792.0 794.4,793.6 797.4,794.8 799.4,795.4 805.4,796.5 813.4,797.6 828.4,798.9 847.4,800.1 883.4,801.0 944.4,801.4 1085.4,801.7 1330.0,801.7 1333.4,801.3 1340.4,799.2 1343.4,798.7 1373.4,797.7 1377.4,797.3 1381.4,796.3 1383.4,795.5 1384.4,794.7 1389.4,788.0 1392.4,783.2 1393.4,782.2 1394.5,781.7 1395.4,782.1 1396.4,783.3 1399.4,788.4 1402.4,791.8 1405.4,794.4 1408.4,795.7 1414.4,797.4 1424.4,799.2 1430.0,799.9 1447.4,801.3 1459.4,802.0 1470.0,802.2 1574.4,802.5 1700.4,802.6 1705.4,802.4 1710.4,802.0 1717.4,801.0 1723.4,799.9 1728.4,798.1 1738.4,793.6 1745.4,790.2 1747.4,789.5 1749.9,789.2 1753.4,789.7 1762.4,793.0 1773.4,796.0 1778.4,797.0 1786.4,797.8 1795.4,798.5 1802.4,798.7 1858.4,798.7 1861.4,797.9 1867.4,794.9 1878.0,787.2"/><polyline points="109.3,797.0 175.4,796.0 246.4,794.6 307.4,793.1 361.4,791.6 394.4,790.4 457.4,787.4 488.0,786.2 493.4,785.7 496.4,785.1 498.4,784.2 500.4,782.5 502.2,779.8 503.2,777.6 504.4,773.9 505.5,769.4 506.5,763.8 507.4,757.0 509.0,741.7 510.5,720.7 511.7,697.8 514.2,643.5 518.0,715.3 519.4,735.3 521.0,751.1 522.7,763.4 523.7,768.4 524.7,772.3 526.0,775.9 527.4,778.8 528.4,780.2 530.0,781.8 532.4,783.3 535.4,784.2 539.4,784.9 551.4,786.3 562.4,788.1 573.4,790.8 577.4,791.5 582.4,791.8 589.0,791.0 590.4,790.4 593.4,788.5 595.0,788.0 596.4,788.4 599.4,790.6 601.0,791.5 605.4,792.8 609.4,793.6 620.4,794.8 638.4,795.5 645.4,795.3 657.4,794.3 664.4,793.3 671.4,791.9 676.4,790.4 680.4,788.8 685.4,786.1 689.4,783.4 691.4,781.3 694.4,777.3 697.4,772.4 702.4,763.4 707.4,752.3 714.4,734.9 719.4,720.2 723.4,705.6 725.4,695.8 726.4,689.4 727.4,681.0 728.4,666.9 730.4,628.6 734.4,541.5 735.4,524.5 736.4,502.2 737.3,466.0 738.0,345.0 738.4,325.5 739.4,298.0 740.4,277.1 741.0,270.5 741.4,275.4 743.4,317.8 744.5,345.0 747.2,466.0 748.4,498.1 751.4,557.1 757.0,642.0 759.4,688.8 760.4,699.4 761.4,707.8 763.0,718.6 766.4,737.4 768.4,745.9 770.4,753.0 774.4,765.0 776.4,769.9 778.4,773.9 781.4,779.0 784.4,783.2 786.4,785.3 787.8,786.5 791.4,788.8 794.4,790.4 797.4,791.6 799.4,792.2 805.4,793.3 813.4,794.4 828.4,795.7 847.4,796.9 883.4,797.8 944.4,798.2 1085.4,798.5 1330.0,798.5 1333.4,798.1 1340.4,796.0 1343.4,795.5 1373.4,794.5 1377.4,794.1 1381.4,793.1 1383.4,792.3 1384.4,791.5 1389.4,784.8 1392.4,780.0 1393.4,779.0 1394.5,778.5 1395.4,778.9 1396.4,780.1 1399.4,785.2 1402.4,788.6 1405.4,791.2 1408.4,792.5 1414.4,794.2 1424.4,796.0 1430.0,796.7 1447.4,798.1 1459.4,798.8 1470.0,799.0 1574.4,799.3 1700.4,799.4 1705.4,799.2 1710.4,798.8 1717.4,797.8 1723.4,796.7 1728.4,794.9 1738.4,790.4 1745.4,787.0 1747.4,786.3 1749.9,786.0 1753.4,786.5 1762.4,789.8 1773.4,792.8 1778.4,793.8 1786.4,794.6 1795.4,795.3 1802.4,795.5 1858.4,795.5 1861.4,794.7 1867.4,791.7 1878.0,784.0"/></g>
<line x1="372.5" x2="372.5" y1="221.25" y2="1245" stroke="#00FF00" stroke-width="5" stroke-dasharray="5.5 7.5 23.5 7.75"/>
<line x1="463.9" x2="463.9" y1="221.25" y2="1245" stroke="#00FF00" stroke-width="5" stroke-dasharray="5.5 7.5 23.5 7.75"/>
<line x1="524.3" x2="524.3" y1="221.25" y2="1245" stroke="#00FF00" stroke-width="5" stroke-dasharray="5.5 7.5 23.5 7.75"/>
<line x1="1427.6" x2="1427.6" y1="221.25" y2="1245" stroke="#00FF00" stroke-width="5" stroke-dasharray="5.5 7.5 23.5 7.75"/>
<line x1="505.7" x2="505.7" y1="193.4" y2="1247" stroke="#FF8000" stroke-width="4.3" opacity="0.22"/>
<line x1="505.7" x2="505.7" y1="193.4" y2="1247" stroke="#FF8000" stroke-width="4.3" stroke-dasharray="13.6 5.5 2.9 5.2"/>
<line x1="597.7" x2="597.7" y1="193.4" y2="1247" stroke="#FF8000" stroke-width="4.3" opacity="0.22"/>
<line x1="597.7" x2="597.7" y1="193.4" y2="1247" stroke="#FF8000" stroke-width="4.3" stroke-dasharray="13.6 5.5 2.9 5.2"/>
<line x1="674.8" x2="674.8" y1="193.4" y2="1247" stroke="#FF8000" stroke-width="4.3" opacity="0.22"/>
<line x1="674.8" x2="674.8" y1="193.4" y2="1247" stroke="#FF8000" stroke-width="4.3" stroke-dasharray="13.6 5.5 2.9 5.2"/>
<line x1="515.0" x2="515.0" y1="177.0" y2="1246" stroke="#D42AFF" stroke-width="4.4" stroke-dasharray="19.4 16.44"/>
<line x1="710.2" x2="710.2" y1="177.0" y2="1246" stroke="#D42AFF" stroke-width="4.4" stroke-dasharray="19.4 16.44"/>
<line x1="1347.3" x2="1347.3" y1="177.0" y2="1246" stroke="#D42AFF" stroke-width="4.4" stroke-dasharray="19.4 16.44"/>
<line x1="1755.0" x2="1755.0" y1="177.0" y2="1246" stroke="#D42AFF" stroke-width="4.4" stroke-dasharray="19.4 16.44"/>
<line x1="733.1" x2="733.1" y1="190.7" y2="1246" stroke="#000080" stroke-width="4" stroke-dasharray="11 5.63"/>
<line x1="1380.9" x2="1380.9" y1="190.7" y2="1246" stroke="#000080" stroke-width="4" stroke-dasharray="11 5.63"/>
<polygon fill="#D42AFF" points="489.0,177.3 528.3,155.5 528.3,199.1"/>
<polygon fill="#D42AFF" points="684.2,177.3 723.5,155.5 723.5,199.1"/>
<polygon fill="#D42AFF" points="1321.3,177.3 1360.6,155.5 1360.6,199.1"/>
<polygon fill="#D42AFF" points="1729.0,177.3 1768.3,155.5 1768.3,199.1"/>
<polygon fill="#D42AFF" points="1858.8,177.3 1898.1,155.5 1898.1,199.1"/>
<polygon fill="#FF8000" points="531.7,193.4 491.4,171.9 491.4,214.9"/>
<polygon fill="#FF8000" points="623.7,193.4 583.4,171.9 583.4,214.9"/>
<polygon fill="#FF8000" points="700.8,193.4 660.5,171.9 660.5,214.9"/>
<polygon fill="#00FF00" points="372.5,169.8 353.3,180.9 353.3,203.1 372.5,214.2 391.7,203.1 391.7,180.9"/>
<polygon fill="#00FF00" points="463.9,169.8 444.7,180.9 444.7,203.1 463.9,214.2 483.1,203.1 483.1,180.9"/>
<polygon fill="#00FF00" points="524.3,169.8 505.1,180.9 505.1,203.1 524.3,214.2 543.5,203.1 543.5,180.9"/>
<polygon fill="#00FF00" points="1427.6,169.8 1408.4,180.9 1408.4,203.1 1427.6,214.2 1446.8,203.1 1446.8,180.9"/>
<polygon fill="#000080" points="733.1,152.8 728.3,167.4 712.9,167.4 725.4,176.5 720.6,191.2 733.1,182.1 745.6,191.2 740.8,176.5 753.3,167.4 737.9,167.4"/>
<polygon fill="#000080" points="1380.9,152.8 1376.1,167.4 1360.7,167.4 1373.2,176.5 1368.4,191.2 1380.9,182.1 1393.4,191.2 1388.6,176.5 1401.1,167.4 1385.7,167.4"/>
</g>
<polygon fill="#D42AFF" points="168,83.3 206,60.5 206,106"/>
<polygon fill="#FF8000" points="588.5,83.4 549,60.7 549,106"/>
<polygon fill="#00FF00" points="978.0,61.9 959.7,72.4 959.7,93.5 978.0,104.1 996.3,93.6 996.3,72.5"/>
<polygon fill="#000080" points="1316.0,62.8 1311.2,77.7 1295.6,77.7 1308.2,86.8 1303.4,101.7 1316.0,92.5 1328.6,101.7 1323.8,86.8 1336.4,77.7 1320.8,77.7"/>
<text x="266" y="105.4" font-size="68" text-anchor="start" textLength="222" lengthAdjust="spacingAndGlyphs">fcc- CrN</text>
<text x="633.5" y="105.4" font-size="68" text-anchor="start" textLength="272" lengthAdjust="spacingAndGlyphs">hcp- Cr2N</text>
<text x="1066" y="105.4" font-size="68" text-anchor="start" textLength="177" lengthAdjust="spacingAndGlyphs">w-AlN</text>
<text x="1404" y="105.4" font-size="68" text-anchor="start" textLength="175" lengthAdjust="spacingAndGlyphs">bcc-Cr</text>
<text x="108.8" y="1318" font-size="53" font-weight="bold" text-anchor="middle">25</text>
<text x="269.6" y="1318" font-size="53" font-weight="bold" text-anchor="middle">30</text>
<text x="430.3" y="1318" font-size="53" font-weight="bold" text-anchor="middle">35</text>
<text x="591.0" y="1318" font-size="53" font-weight="bold" text-anchor="middle">40</text>
<text x="751.8" y="1318" font-size="53" font-weight="bold" text-anchor="middle">45</text>
<text x="912.5" y="1318" font-size="53" font-weight="bold" text-anchor="middle">50</text>
<text x="1073.3" y="1318" font-size="53" font-weight="bold" text-anchor="middle">55</text>
<text x="1234.0" y="1318" font-size="53" font-weight="bold" text-anchor="middle">60</text>
<text x="1394.8" y="1318" font-size="53" font-weight="bold" text-anchor="middle">65</text>
<text x="1555.5" y="1318" font-size="53" font-weight="bold" text-anchor="middle">70</text>
<text x="1716.3" y="1318" font-size="53" font-weight="bold" text-anchor="middle">75</text>
<text x="1877.0" y="1318" font-size="53" font-weight="bold" text-anchor="middle">80</text>
<text x="688.5" y="1384.3" font-size="64" font-weight="bold" text-anchor="start" textLength="435.5" lengthAdjust="spacingAndGlyphs">2Theta (degree)</text>
<text transform="translate(80,829.5) rotate(-90)" font-size="78" textLength="415" lengthAdjust="spacingAndGlyphs">Intensity (a.u)</text>
<text x="802.6" y="763.6" font-size="53" font-weight="bold" textLength="339" lengthAdjust="spacingAndGlyphs">AlCrON-700<tspan font-size="32" dy="-22.5">o</tspan><tspan dy="22.5">C</tspan></text>
<text x="774.6" y="902.2" font-size="53" font-weight="bold" text-anchor="start" textLength="473.5" lengthAdjust="spacingAndGlyphs">AlCrON-as-deposited</text>
<text x="792.2" y="1044.4" font-size="53" font-weight="bold" textLength="307" lengthAdjust="spacingAndGlyphs">AlCrN-700<tspan dy="-17.4">o</tspan><tspan dy="17.4">C</tspan></text>
<text x="810" y="1156" font-size="53" font-weight="bold" text-anchor="start" textLength="433.5" lengthAdjust="spacingAndGlyphs">AlCrN-as-deposited</text>
</svg>
</body></html>
